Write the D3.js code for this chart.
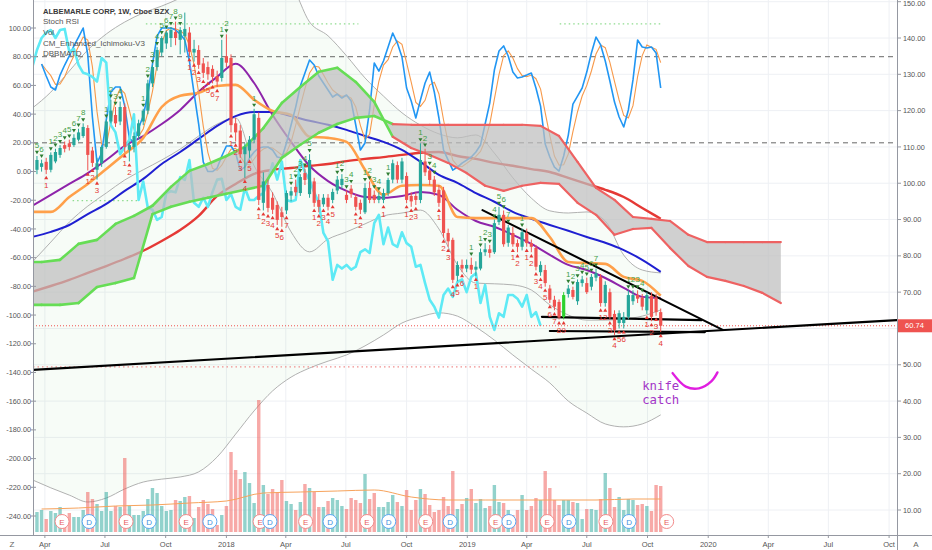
<!DOCTYPE html>
<html><head><meta charset="utf-8">
<script src="https://cdn.jsdelivr.net/npm/d3@7"></script>
<style>
html,body{margin:0;padding:0;background:#fff;}
svg{display:block;font-family:"Liberation Sans",Arial,sans-serif;}
</style></head><body>
<svg id="chart" width="932" height="550"></svg>
<script>
// ================= DATA =================
const weekStart = "2017-03-27";      // week index 0 (weekly bars)
const candleFirstWeek = -1;          // first candle week index
const opens = [103.7,104.5,105.9,103.7,106,107.8,110.5,111,110.5,112,113,
 115.2,109,103.7,105.5,110,117,118.8,117,121,109.2,
 110,113,117,120,127.5,132,136,138.5,140,141.7,
 139.5,140.5,141.5,136,136.7,133,132,131.5,129.5,129,
 135,134.5,116.5,114.5,108,109,112,118,94.6,99.5,
 96,94,92,92.5,96.6,99,97.3,102.8,97,100.5,
 95.4,94.2,96,95.4,98,99.5,96.8,98.5,96.2,94.6,
 92,98.7,96.8,95.4,95.4,97.3,101,105,101,102,
 96.5,96.5,95.4,106,103.5,101,98.2,98,86.3,84.4,
 74.5,77.5,76.5,77.5,76.2,76.5,81,81.8,81,89.3,
 91.3,83.6,86.3,83.5,82.5,86.3,83.5,82.2,75.5,76.1,
 71,67.9,67.3,63.2,69.5,70.6,67.5,72.5,72.5,71.5,
 74,74.2,67,70,64,61.5,61.5,63.2,67.5,69.2,
 68.5,65,69,68.5,64.5];
const highs = [107.5,106.5,107,108.5,109.5,110.5,111.5,112,113.5,115,116.5,
 116,110,107,110.5,117.5,123,121,122.5,122,111.5,
 114,117.5,120.5,128.5,132.5,137.5,140.5,142,143,144.5,
 143,147,143,139.5,138,134.5,133.5,132.5,131,139.5,
 141,135.5,118,116,111,113,120.5,119.5,103,101,
 97.5,95,93.5,98,99,101,102.5,104,108,101.5,
 97,97,97,98.5,102,102.5,98,99.5,97,95.5,
 100,100.5,98,97.5,98.5,101.5,106.5,106,107,103,
 97.5,97.5,111,109.5,104.5,102,99.5,99,87.5,85,
 78.5,79,79,79.5,78.5,82,83.5,83,90,93.5,
 92.5,88.5,88,84.5,87.5,87.5,84.5,83,78.5,77.5,
 72,69,68,70,72,71.5,73.5,74.5,74,75,
 76.5,75,73,71,65,65,64.5,70.5,70.5,70.5,
 69.5,70,70,69.5,65.5];
const lows = [102.5,103.2,102.5,103,105.5,107,108.5,109,110,111.5,112.5,
 103.5,104.5,101,104.5,109.5,116.5,115.5,116,108.5,106,
 108.5,112,116,119,126.5,131,135,137,137.5,138,
 135.5,136,135,133.5,131.5,129,128.5,127.5,126.5,128,
 132,114,111.5,107,101.5,107,111,94,92.5,92,
 91.5,88.5,88,91.5,95,96.5,96.5,99.5,96,93.5,
 92,93.5,92.5,94.5,97,98.5,94.5,96,92.5,91.5,
 91.5,94.5,94.5,94.5,94.5,96.5,100,100,100,94.5,
 93.5,94,94.5,102,99.5,96.5,93.5,85,82.5,72.5,
 73,75.5,75.5,75,74.5,76,80,79.5,80.5,88.5,
 82.5,82.5,82.5,81,81.5,82.5,81,76,74.5,71.5,
 67,65,62.5,62.5,68.5,68,66.5,71.5,69.5,70.5,
 73,66,66,62.5,58.2,60,60,62.5,66.5,67,
 65,64,62,63.5,59];
const closes = [106.4,105.5,103.7,107.8,108.6,109.7,109.5,110,112.5,114,115.5,
 107.8,105.6,105.5,110,117,120,116.5,121,110,110.5,
 113,116.5,120,127.5,132,136.7,140,141.5,142.2,140,
 142.2,142.5,136.2,137,132.6,130.4,130,129.3,128,134.5,
 133.2,116,114,108,110,112,119,95.4,100.5,93.2,
 92.7,89.9,90.7,97.3,97.8,97.5,101.7,100.9,106.4,94.6,
 93.5,96,93.5,97.6,101,101.2,95.4,97,93.5,92.7,
 98.7,95.4,95.4,96.5,97.3,100.9,105.5,101,106,95.4,
 95,95.4,106.4,103,100.9,97.5,94.6,86.3,84,73.4,
 77.5,76.5,77.5,76.2,77,81,81.8,80.8,89,91.3,
 83.2,87.8,83.2,82.5,86.5,83.5,82.5,77,77.5,72.5,
 67.9,66,63,69.2,71,68.7,72.8,73.5,70,74.2,
 75.2,67,72,63.2,59.6,64.2,63.2,69.2,69.2,68.2,
 66,69.2,63.2,64.5,60.74];
// weekly volume, millions
const volumes = [2.0,
 2.2,1.3,2.1,1.9,2.5,1.5,1.9,1.5,1.5,2.2, 4.0,3.3,2.8,2.1,4.0,2.1,2.6,2.5,7.4,2.6,
 1.7,1.7,2.1,3.3,4.4,3.9,2.6,2.1,2.2,3.2, 3.1,3.5,3.6,1.4,2.5,3.2,2.8,2.3,0.7,1.7,
 2.6,8.0,6.2,5.3,6.0,4.9,2.9,13.2,4.7,3.8, 4.3,3.9,5.2,3.1,2.8,2.2,3.0,4.8,4.4,4.0,
 2.5,2.5,3.1,3.4,3.2,2.6,2.3,3.4,3.2,2.9, 5.8,
 3.3,3.9,2.5,2.5,3.0,3.7,3.0,2.6,4.2,2.2, 3.2,4.3,3.8,2.7,2.0,2.2,3.5,2.6,6.1,2.3,
 2.8,3.4,4.3,2.9,3.3,2.4,2.6,4.7,3.0,2.9, 2.2,1.7,2.2,3.7,2.2,2.6,3.4,3.2,6.1,4.4,
 3.2,2.7,3.2,3.2,3.0,2.9,1.3,2.3,2.3,2.2, 3.3,5.9,4.4,2.5,3.5,2.2,3.3,3.2,2.7,2.8,
 2.6,2.1,4.7,4.6];
const highlightWeeks = [113];
const volMAWeeks = [0,8,16,24,32,40,48,56,64,72,80,88,96,104,112,120,128,134];
const volMA = [2.3,2.4,2.6,2.7,2.9,3.1,3.9,4.0,4.1,4.2,3.5,3.2,3.2,3.2,3.2,3.2,3.3,3.3];

// Stoch RSI %K, weeks 0..134
const stochK = [74.9,66.6,58.9,56.8,67.2,74.2,80.5,87.5,93.7,100,
 81.2,38.0,5.9,12.9,35.9,55.4,58.9,58.9,45.6,23.3,
 19.9,30.3,38.7,54.0,74.9,94.4,100,100,100,98.6,
 95.8,91.6,77.0,54.7,33.1,6.6,0,0,2.4,10.8,
 17.8,17.8,12.9,1.0,3.1,9.4,13.6,16.4,17.1,17.1,
 15.0,10.1,9.4,19.9,32.4,44.9,59.6,68.6,77.7,74.2,
 66.6,61.7,56.8,51.9,54.0,51.2,53.3,49.1,32.4,15.0,
 19.9,42.9,75.6,70.0,77.0,86.8,96.5,89.5,79.8,58.2,
 49.1,37.3,49.8,61.7,69.3,55.4,37.3,15.0,8.0,1.0,
 3.1,5.9,8.0,10.1,13.6,18.5,33.1,47.7,70.7,84.0,
 87.5,80.5,69.3,65.2,65.9,67.2,68.6,58.2,45.6,19.2,
 10.1,3.1,0.3,10.8,25.4,47.0,52.6,58.2,69.3,82.6,
 93.7,88.2,77.0,63.1,48.4,38.0,31.0,42.9,63.8,91.6,
 86.8,86.1,86.8,82.6,58.2];

// moving averages sampled every 4 weeks, weeks -2..134
const maWeeksStart = -2, maWeeksStep = 4;
const maRed = [70.1,71.7,73.4,75.3,77.2,79.2,81.4,84.1,87.1,91.0,96.5,99.8,102.6,103.7,104.2,104.8,105.3,106.1,106.7,107.2,107.8,108.4,108.6,107.5,106.7,105.6,104.8,103.9,103.1,101.5,99.8,98.2,96.2,93.2,90.2];
const maBlue = [85.2,86.6,88.5,91.5,94.3,97.9,101.2,105.3,108.6,112.2,115.8,118.5,119.6,119.6,118.5,117.2,116.1,114.7,113.0,111.4,109.2,105.9,102.3,100.1,97.3,94.9,92.1,90.2,88.5,86.9,85.2,83.6,81.6,78.9,75.6];
const maPurple = [93.8,96.8,99.8,102.8,106.4,110.3,113.0,116.3,120.2,125.2,129.3,132.9,127.6,118.8,111.4,104.8,100.6,97.9,96.2,96.0,96.5,97.6,96.8,92.7,89.6,88.0,85.8,83.3,80.3,77.5,76.1,73.9,71.2,68.7,68.4];
const maOrange = [92.1,92.1,96.2,99.8,103.9,108.1,112.5,121.0,124.1,124.9,126.8,127.1,123.0,119.9,118.8,112.8,112.5,111.4,103.7,96.8,99.3,99.5,99.3,90.7,90.4,90.4,90.4,90.4,85.2,78.3,78.0,77.8,74.2,73.1,69.0];
// Bollinger-type bands (same sampling)
const bandUpper = [120.7,125.1,130.9,136.7,141.1,144.4,146.9,148.8,151.0,153.8,156.0,157.4,158.2,157.4,154.6,144.4,140.6,135.1,129.0,124.0,119.4,116.0,113.6,112.5,113.3,108.3,101.5,95.9,92.4,91.8,92.1,89.6,80.2,76.1,75.3];
const bandLowerInner = [78.3,83.8,89.3,93.7,97.3,100.9,103.7,106.4,109.4,113.0,116.3,118.0,104.8,97.3,86.6,81.1,84.6,86.6,88.8,91.0,91.8,92.6,87.4,77.5,72.5,72.3,72.0,70.6,66.5,63.7,62.3,62.3,62.6,63.4,65.1];
const bandLower = [18.3,16.1,14.1,12.2,13.3,15.8,17.7,18.5,19.1,20.5,24.6,30.9,37.3,42.8,46.6,49.1,51.0,52.7,55.2,58.2,61.5,63.2,64.3,63.4,60.4,56.8,52.7,48.8,45.0,40.0,36.7,33.7,32.9,33.7,36.2];

// Ichimoku cloud spans sampled every 4 weeks, weeks -4..160
const cloudStart = -4, cloudStep = 4;
const spanA = [78.3,78.3,78.9,83.3,84.4,88.8,91.0,93.8,99.0,103.4,105.3,107.5,110.0,115.2,122.1,126.5,130.7,131.8,127.9,122.4,112.8,109.7,107.8,105.6,102.8,99.3,97.9,99.3,100.1,99.8,94.6,91.3,85.8,87.4,87.7,82.2,77.2,74.2,73.1,71.7,69.8,67.0];
const spanB = [66.5,66.5,66.5,67.0,71.4,72.5,73.9,91.5,93.5,94.9,96.0,97.1,98.2,99.3,107.0,110.6,113.9,116.3,118.0,118.5,116.3,116.1,116.1,116.1,116.1,116.1,116.1,116.1,115.8,113.0,105.9,98.7,95.4,90.7,90.2,89.6,85.8,83.8,83.8,83.8,83.8,83.8];
const chikouShift = 26;

// TD sequential counts [week, label]
const tdUp = [[-1,"5"],[0,"6"],[2,"1"],[3,"2"],[4,"3"],[5,"4"],[6,"5"],[7,"6"],[8,"7"],[9,"8"],
 [14,"1"],[15,"2"],[16,"3"],[17,"4"],[22,"1"],[23,"2"],[24,"3"],[25,"4"],[26,"5"],[27,"6"],[28,"7"],[29,"8"],[30,"9"],
 [39,"1"],[40,"2"],[46,"1"],[54,"1"],[55,"2"],[56,"3"],[57,"4"],[58,"5"],[64,"1"],[65,"2"],[66,"3"],[67,"4"],
 [70,"1"],[71,"2"],[72,"3"],[73,"4"],[75,"1"],[82,"1"],[83,"2"],[84,"3"],[85,"4"],[93,"1"],[95,"1"],[96,"2"],[97,"3"],
 [98,"4"],[99,"5"],[100,"6"],[101,"7"],[104,"1"],[114,"1"],[115,"2"],[116,"3"],[117,"4"],[118,"5"],[119,"6"],[120,"7"],
 [127,"1"],[128,"2"],[129,"3"],[130,"4"]];
const tdDown = [[1,"1"],[10,"1"],[11,"2"],[12,"3"],[18,"1"],[19,"2"],[32,"1"],[33,"2"],[34,"3"],[35,"4"],[36,"5"],[37,"6"],[38,"7"],
 [41,"1"],[42,"2"],[43,"3"],[44,"4"],[45,"5"],[47,"1"],[48,"2"],[49,"3"],[50,"4"],[51,"5"],[52,"6"],[53,"7"],
 [59,"1"],[60,"2"],[61,"3"],[62,"4"],[63,"5"],[68,"1"],[69,"2"],[74,"1"],[79,"1"],[80,"2"],[81,"3"],
 [86,"1"],[87,"2"],[88,"3"],[89,"4"],[90,"5"],[91,"6"],[94,"1"],[102,"1"],[103,"2"],[105,"1"],[106,"2"],[107,"3"],
 [108,"4"],[109,"5"],[110,"6"],[111,"7"],[112,"8"],[113,"9"],[121,"1"],[122,"2"],[123,"3"],[124,"4"],[125,"5"],[126,"6"],
 [131,"1"],[132,"2"],[133,"3"],[134,"4"]];

const earningsDates = ["2017-04-27","2017-08-02","2017-11-01","2018-02-21","2018-05-01","2018-08-02","2018-10-30","2019-02-13","2019-05-02","2019-07-30","2019-10-30"];
const dividendDates = ["2017-06-07","2017-09-06","2017-12-07","2018-03-08","2018-06-07","2018-09-04","2018-12-06","2019-03-05","2019-06-04","2019-09-03"];

const trendLines = [["2017-03-14",48.6,"2020-10-13",62.3],["2019-01-24",92.6,"2020-01-23",59.6],["2019-04-24",63.2,"2019-12-22",62.3],["2019-05-06",59.3,"2019-12-27",59.0]];
const levelLines = [["2017-09-01","2018-07-20",143.9,"green"],["2019-05-21","2019-10-21",143.9,"green"],["2017-05-13","2017-08-23",95.2,"green"],["2017-03-14","2019-05-21",49.4,"red"]];
const lastPrice = 60.74;
const priceTicks = [150,140,130,120,110,100,90,80,70,60,50,40,30,20,10];
const stochTicks = [100,80,60,40,20,0,-20,-40,-60,-80,-100,-120,-140,-160,-180,-200,-220,-240];
const stochLevels = [80,20];
const legendLines = ["ALBEMARLE CORP, 1W, Cboe BZX","Stoch RSI","Vol","CM_Enhanced_Ichimoku-V3","DBBMATD"];
const noteText = ["knife","catch"];
const noteAnchor = ["2019-09-23",43.1];
const noteArc = [["2019-11-08",47.7],["2019-11-28",44.0],["2019-12-18",43.5],["2020-01-06",45.5],["2020-01-15",47.9]];

// ================= DRAW =================
const W = 932, H = 550;
const P = {l:33, r:897, t:0, b:535};
const parse = d3.timeParse("%Y-%m-%d");
const wk0 = parse(weekStart);
const wd = w => d3.timeDay.offset(wk0, 7*w);

const x = d3.scaleTime().domain([parse("2017-03-14"), parse("2020-10-13")]).range([P.l, P.r]);
const y = d3.scaleLinear().domain([10,140]).range([510,38]);
const ys = d3.scaleLinear().domain([100,-240]).range([28,516]);
const yv = d3.scaleLinear().domain([0,13.2]).range([532,400]);

const svg = d3.select("#chart");
svg.append("rect").attr("width",W).attr("height",H).attr("fill","#fff");
svg.append("defs").append("clipPath").attr("id","clip").append("rect")
  .attr("x",P.l).attr("y",P.t).attr("width",P.r-P.l).attr("height",P.b-P.t);
const g = svg.append("g").attr("clip-path","url(#clip)");

// grid
const timeTicks = d3.timeMonth.every(3).range(parse("2017-04-01"), parse("2020-10-02"));
g.selectAll(".vg").data(timeTicks).join("line").attr("x1",d=>x(d)).attr("x2",d=>x(d))
  .attr("y1",P.t).attr("y2",P.b).attr("stroke","#eef0f4").attr("stroke-width",1);
g.selectAll(".hg").data(priceTicks).join("line").attr("x1",P.l).attr("x2",P.r)
  .attr("y1",d=>y(d)).attr("y2",d=>y(d)).attr("stroke","#eef0f4").attr("stroke-width",1);

const sampled = (start, step, vals) => vals.map((v,i)=>[start+i*step, v]);
const lineW = d3.line().x(d=>x(wd(d[0]))).y(d=>y(d[1]));
const lineS = d3.line().x(d=>x(wd(d[0]))).y(d=>ys(d[1]));

// band fill + band lines
const bandData = bandUpper.map((u,i)=>({w:maWeeksStart+i*maWeeksStep, u, l:bandLower[i]}));
g.append("path").datum(bandData).attr("fill","rgba(76,175,80,0.045)")
  .attr("d", d3.area().curve(d3.curveMonotoneX).x(d=>x(wd(d.w))).y0(d=>y(d.l)).y1(d=>y(d.u)));
[bandUpper, bandLowerInner, bandLower].forEach(arr=>{
  g.append("path").datum(sampled(maWeeksStart, maWeeksStep, arr))
   .attr("d", lineW.curve(d3.curveMonotoneX)).attr("fill","none")
   .attr("stroke","#a8a8a8").attr("stroke-width",0.9);
});

// level dotted lines
levelLines.forEach(([a,b,p,c])=>{
  g.append("line").attr("x1",x(parse(a))).attr("x2",x(parse(b))).attr("y1",y(p)).attr("y2",y(p))
   .attr("stroke", c==="green" ? "#8fdc8f" : "#f09090").attr("stroke-width",1.2).attr("stroke-dasharray","1.5,3");
});
// stoch level dashed
stochLevels.forEach(v=>{
  g.append("line").attr("x1",P.l).attr("x2",P.r).attr("y1",ys(v)).attr("y2",ys(v))
   .attr("stroke","#666").attr("stroke-width",1).attr("stroke-dasharray","5,4");
});

// candles data
const candles = opens.map((o,i)=>({w:i+candleFirstWeek, o, h:highs[i], l:lows[i], c:closes[i], v:volumes[i]}));
const byWeek = new Map(candles.map(d=>[d.w,d]));
const UP = "#26a69a", DN = "#ef5350";

// volume
g.selectAll(".vol").data(candles).join("rect")
  .attr("x",d=>x(wd(d.w))-1.7).attr("width",3.4)
  .attr("y",d=>yv(d.v)).attr("height",d=>yv(0)-yv(d.v))
  .attr("fill",d=>d.c>=d.o ? "rgba(38,166,154,0.5)" : "rgba(239,83,80,0.5)");
g.append("path").datum(volMAWeeks.map((w,i)=>[w, volMA[i]]))
  .attr("d", d3.line().curve(d3.curveMonotoneX).x(d=>x(wd(d[0]))).y(d=>yv(d[1])))
  .attr("fill","none").attr("stroke","#f7a35c").attr("stroke-width",1);

// moving averages
[[maRed,"#e53935",2.4],[maBlue,"#1f1fd1",2],[maPurple,"#8e24aa",2],[maOrange,"#ffa04a",2.6]].forEach(([arr,col,sw])=>{
  g.append("path").datum(sampled(maWeeksStart, maWeeksStep, arr))
   .attr("d", lineW.curve(d3.curveMonotoneX)).attr("fill","none").attr("stroke",col).attr("stroke-width",sw)
   .attr("stroke-linejoin","round");
});

// stoch RSI
const stochD = stochK.map((v,i)=>d3.mean(stochK.slice(Math.max(0,i-2), i+1)));
g.append("path").datum(stochD.map((v,i)=>[i,v])).attr("d", lineS.curve(d3.curveLinear))
  .attr("fill","none").attr("stroke","#f7994a").attr("stroke-width",1.1);
g.append("path").datum(stochK.map((v,i)=>[i,v])).attr("d", lineS.curve(d3.curveLinear))
  .attr("fill","none").attr("stroke","#2196f3").attr("stroke-width",1.6).attr("stroke-linejoin","round");

// chikou (lagging close)
g.append("path").datum(candles.map(d=>[d.w-chikouShift, d.c])).attr("d", lineW.curve(d3.curveLinear))
  .attr("fill","none").attr("stroke","#5eeaf5").attr("stroke-width",2.6).attr("stroke-linejoin","round");

// cloud
const cloud = spanA.map((a,i)=>({w:cloudStart+i*cloudStep, a, b:spanB[i]}));
g.append("path").datum(cloud).attr("fill","rgba(190,190,190,0.72)")
  .attr("d", d3.area().x(d=>x(wd(d.w))).y0(d=>y(d.b)).y1(d=>y(d.a)));
for (let i=0;i<cloud.length-1;i++){
  const d0=cloud[i], d1=cloud[i+1];
  const bull = (d0.a+d1.a) >= (d0.b+d1.b);
  const col = bull ? "#66dd55" : "#ee6262";
  ["a","b"].forEach(k=>{
    g.append("line").attr("x1",x(wd(d0.w))).attr("y1",y(d0[k])).attr("x2",x(wd(d1.w))).attr("y2",y(d1[k]))
     .attr("stroke",col).attr("stroke-width",bull?2.6:2.2).attr("stroke-linecap","round");
  });
}

// price line
g.append("line").attr("x1",P.l).attr("x2",P.r).attr("y1",y(lastPrice)).attr("y2",y(lastPrice))
  .attr("stroke","#ef5350").attr("stroke-width",1).attr("stroke-dasharray","1,2");

// trend lines
trendLines.forEach(([a,p1,b,p2])=>{
  g.append("line").attr("x1",x(parse(a))).attr("y1",y(p1)).attr("x2",x(parse(b))).attr("y2",y(p2))
   .attr("stroke","#000").attr("stroke-width",2.1).attr("stroke-linecap","round");
});

// candles
const cg = g.append("g");
candles.forEach(d=>{
  const cx = x(wd(d.w));
  const col = highlightWeeks.includes(d.w) ? "#2ed12e" : (d.c>=d.o ? UP : DN);
  cg.append("line").attr("x1",cx).attr("x2",cx).attr("y1",y(d.h)).attr("y2",y(d.l)).attr("stroke",col).attr("stroke-width",1);
  const top = y(Math.max(d.o,d.c)), bot = y(Math.min(d.o,d.c));
  cg.append("rect").attr("x",cx-1.6).attr("width",3.2).attr("y",top).attr("height",Math.max(1,bot-top)).attr("fill",col);
});

// TD labels
const tri = d3.symbol(d3.symbolTriangle, 7)();
tdUp.forEach(([w,t])=>{
  const d = byWeek.get(w); if(!d) return;
  const cx = x(wd(w)), yy = y(d.h);
  g.append("path").attr("d",tri).attr("transform",`translate(${cx},${yy-4}) rotate(180)`).attr("fill","#2e7d32");
  g.append("text").attr("x",cx).attr("y",yy-8).attr("text-anchor","middle").attr("font-size",8)
   .attr("fill","#43a047").text(t);
});
tdDown.forEach(([w,t])=>{
  const d = byWeek.get(w); if(!d) return;
  const cx = x(wd(w)), yy = y(d.l);
  g.append("path").attr("d",tri).attr("transform",`translate(${cx},${yy+4})`).attr("fill","#e53935");
  g.append("text").attr("x",cx).attr("y",yy+13.5).attr("text-anchor","middle").attr("font-size",8)
   .attr("fill","#e53935").text(t);
});

// earnings / dividends
const evY = 521.5;
earningsDates.forEach(s=>{
  const cx = x(parse(s));
  g.append("circle").attr("cx",cx).attr("cy",evY).attr("r",7).attr("fill","#fff").attr("stroke","#f28b8b").attr("stroke-width",1);
  g.append("text").attr("x",cx).attr("y",evY+3).attr("text-anchor","middle").attr("font-size",8).attr("fill","#e86060").text("E");
});
dividendDates.forEach(s=>{
  const cx = x(parse(s));
  g.append("circle").attr("cx",cx).attr("cy",evY).attr("r",7).attr("fill","#fff").attr("stroke","#5aa6f2").attr("stroke-width",1);
  g.append("text").attr("x",cx).attr("y",evY+3).attr("text-anchor","middle").attr("font-size",8).attr("fill","#3d8fe0").text("D");
});

// annotation
const nt = g.append("text").attr("x",x(parse(noteAnchor[0]))).attr("y",y(noteAnchor[1]))
  .attr("font-family","'DejaVu Sans Mono',monospace").attr("font-size",12.3).attr("fill","#a335c8");
noteText.forEach((t,i)=>nt.append("tspan").attr("x",x(parse(noteAnchor[0]))).attr("dy",i?14:0).text(t));
g.append("path").datum(noteArc).attr("d", d3.line().curve(d3.curveCatmullRom).x(d=>x(parse(d[0]))).y(d=>y(d[1])))
  .attr("fill","none").attr("stroke","#e01ee0").attr("stroke-width",2.4).attr("stroke-linecap","round");

// legend
legendLines.forEach((t,i)=>{
  svg.append("text").attr("x",43).attr("y",13.5+i*10.7).attr("font-size",i?8:7.6)
    .attr("font-weight",i?"normal":"bold").attr("fill",i?"#555":"#3a3a3a").text(t);
});

// axes
const axisCol = "#9598a1", labCol = "#555";
svg.append("line").attr("x1",P.r+0.5).attr("x2",P.r+0.5).attr("y1",0).attr("y2",H).attr("stroke",axisCol);
svg.append("line").attr("x1",P.l+0.5).attr("x2",P.l+0.5).attr("y1",0).attr("y2",P.b).attr("stroke",axisCol);
svg.append("line").attr("x1",0).attr("x2",W).attr("y1",P.b+0.5).attr("y2",P.b+0.5).attr("stroke",axisCol);

priceTicks.forEach(p=>{
  svg.append("line").attr("x1",P.r).attr("x2",P.r+4).attr("y1",y(p)).attr("y2",y(p)).attr("stroke",axisCol);
  if (Math.abs(y(p)-y(lastPrice)) < 11) return;   // hidden behind the last-price tag
  svg.append("text").attr("x",903).attr("y",Math.max(y(p)+2.6, 6)).attr("font-size",7.3).attr("fill",labCol).text(d3.format(".2f")(p));
});
stochTicks.forEach(v=>{
  svg.append("line").attr("x1",P.l-2).attr("x2",P.l+3).attr("y1",ys(v)).attr("y2",ys(v)).attr("stroke",axisCol);
  svg.append("text").attr("x",31).attr("y",ys(v)+2.6).attr("text-anchor","end").attr("font-size",7.3).attr("fill",labCol)
    .text(d3.format(".2f")(v).replace("−","-"));
});
const fmtT = d => d.getMonth()===0 ? d3.timeFormat("%Y")(d) : d3.timeFormat("%b")(d);
timeTicks.forEach(t=>{
  svg.append("line").attr("x1",x(t)).attr("x2",x(t)).attr("y1",P.b).attr("y2",P.b+3).attr("stroke",axisCol);
  svg.append("text").attr("x",x(t)).attr("y",547).attr("text-anchor","middle").attr("font-size",7.5).attr("fill",labCol).text(fmtT(t));
});
svg.append("text").attr("x",12).attr("y",547).attr("text-anchor","middle").attr("font-size",8).attr("fill","#666").text("Z");
svg.append("text").attr("x",916).attr("y",547).attr("text-anchor","middle").attr("font-size",8).attr("fill","#666").text("A");

// last price label
svg.append("rect").attr("x",P.r+1).attr("y",y(lastPrice)-6.5).attr("width",W-P.r-1).attr("height",13).attr("fill","#ef5350");
svg.append("text").attr("x",914.5).attr("y",y(lastPrice)+2.7).attr("text-anchor","middle").attr("font-size",7.5)
  .attr("fill","#fff").text(d3.format(".2f")(lastPrice));
</script>
</body></html>
